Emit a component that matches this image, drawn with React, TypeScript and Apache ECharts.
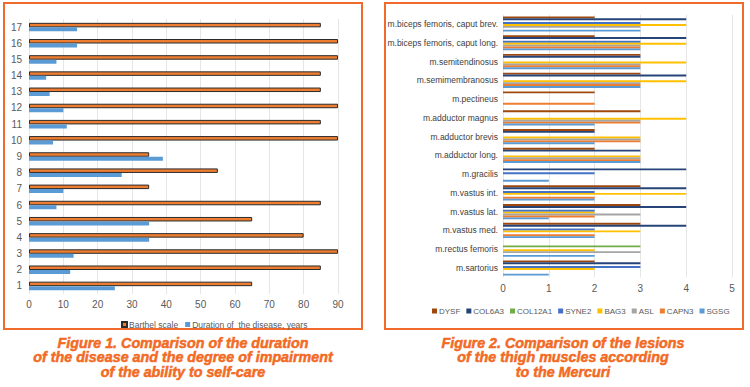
import React, { useEffect, useRef } from "react";
import * as echarts from "echarts";

// ---- Figure 1 data ----
const patients = ["1","2","3","4","5","6","7","8","9","10","11","12","13","14","15","16","17"];
const barthel = [65, 85, 90, 80, 65, 85, 35, 55, 35, 90, 85, 90, 85, 85, 90, 90, 85];
const duration = [25, 12, 13, 35, 35, 8, 10, 27, 39, 7, 11, 10, 6, 5, 8, 14, 14];
const leftTicks = { min: 0, max: 90, interval: 10 };

// ---- Figure 2 data (bottom to top) ----
const muscles = [
  "m.sartorius",
  "m.rectus femoris",
  "m.vastus med.",
  "m.vastus lat.",
  "m.vastus int.",
  "m.gracilis",
  "m.adductor long.",
  "m.adductor brevis",
  "m.adductor magnus",
  "m.pectineus",
  "m.semimembranosus",
  "m.semitendinosus",
  "m.biceps femoris, caput long.",
  "m.biceps femoris, caput brev.",
];
const genes = ["DYSF", "COL6A3", "COL12A1", "SYNE2", "BAG3", "ASL", "CAPN3", "SGSG"];
const DYSF = [2, 0, 3, 3, 3, 0, 2, 2, 3, 2, 3, 3, 2, 2];
const COL6A3 = [3, 0, 4, 4, 4, 4, 3, 2, 0, 0, 4, 3, 4, 4];
const COL12A1 = [0, 3, 0, 0, 0, 0, 0, 0, 0, 0, 0, 0, 0, 0];
const SYNE2 = [3, 0, 2, 2, 2, 2, 0, 0, 0, 0, 0, 0, 3, 3];
const BAG3 = [2, 2, 3, 2, 4, 0, 3, 3, 4, 0, 4, 4, 4, 4];
const ASL = [0, 3, 0, 3, 0, 0, 3, 3, 3, 0, 3, 3, 3, 3];
const CAPN3 = [0, 0, 2, 2, 2, 0, 3, 3, 3, 2, 3, 3, 3, 0];
const SGSG = [1, 2, 2, 1, 2, 1, 3, 2, 2, 0, 3, 3, 3, 3];
const geneValues = [DYSF, COL6A3, COL12A1, SYNE2, BAG3, ASL, CAPN3, SGSG];
const rightTicks = { min: 0, max: 5, interval: 1 };

const caption1 = [
  "Figure 1. Comparison of the duration",
  "of the disease and the degree of impairment",
  "of the ability to self-care",
];
const caption2 = [
  "Figure 2. Comparison of the lesions",
  "of the thigh muscles according",
  "to the Mercuri",
];

const geneColors = ["#9E480E", "#264478", "#70AD47", "#4472C4", "#FFC000", "#A5A5A5", "#ED7D31", "#5B9BD5"];
const FRAME = "#EF6A2B";
const CAPTION = "#F26A24";
const FONT = "'Liberation Sans', Arial, sans-serif";
const LABEL = "#595959";

export default function App() {
  const ref = useRef<HTMLDivElement>(null);
  useEffect(() => {
    if (!ref.current) return;
    const chart = echarts.init(ref.current, undefined, { renderer: "svg" });
    const captionStyle = (lines: string[]) => ({
      text: lines.join("\n"),
      fill: CAPTION,
      stroke: CAPTION,
      lineWidth: 0.5,
      fontSize: 14.3,
      fontWeight: "bold",
      fontStyle: "italic",
      fontFamily: FONT,
      lineHeight: 14.6,
      align: "center",
      verticalAlign: "top",
    });

    const option: any = {
      animation: false,
      backgroundColor: "#ffffff",
      textStyle: { fontFamily: FONT },
      graphic: [
        { type: "rect", shape: { x: 4, y: 3, width: 358, height: 326 }, style: { fill: "none", stroke: FRAME, lineWidth: 2 } },
        { type: "rect", shape: { x: 385, y: 3, width: 358, height: 326 }, style: { fill: "none", stroke: FRAME, lineWidth: 2 } },
        { type: "text", x: 183, y: 335.5, style: captionStyle(caption1) },
        { type: "text", x: 563, y: 335.5, style: captionStyle(caption2) },
      ],
      legend: [
        {
          left: 116,
          top: 315,
          itemWidth: 5,
          itemHeight: 5,
          itemGap: 7,
          icon: "rect",
          textStyle: { fontSize: 8.5, color: LABEL, fontFamily: FONT, padding: [0, 0, 0, -3] },
          data: ["Barthel scale", "Duration of  the disease, years"],
        },
        {
          left: 427,
          top: 302,
          itemWidth: 5,
          itemHeight: 5,
          itemGap: 6,
          icon: "rect",
          textStyle: { fontSize: 8, color: LABEL, fontFamily: FONT, padding: [0, 0, 0, -3] },
          data: genes,
        },
      ],
      grid: [
        { left: 29, right: 412, top: 19, bottom: 93 },
        { left: 503, right: 18, top: 14.6, bottom: 109.6 },
      ],
      xAxis: [
        {
          gridIndex: 0,
          type: "value",
          ...leftTicks,
          axisLine: { show: false },
          axisTick: { show: false },
          axisLabel: { fontSize: 10, color: LABEL, margin: 5, fontFamily: FONT },
          splitLine: { lineStyle: { color: "#E6E6E6" } },
        },
        {
          gridIndex: 1,
          type: "value",
          ...rightTicks,
          axisLine: { show: false },
          axisTick: { show: false },
          axisLabel: { fontSize: 10, color: LABEL, margin: 6, fontFamily: FONT },
          splitLine: { lineStyle: { color: "#E6E6E6" } },
        },
      ],
      yAxis: [
        {
          gridIndex: 0,
          type: "category",
          data: patients,
          axisLine: { show: false },
          axisTick: { show: false },
          axisLabel: { fontSize: 10, color: LABEL, margin: 7, fontFamily: FONT },
        },
        {
          gridIndex: 1,
          type: "category",
          data: muscles,
          axisLine: { show: false },
          axisTick: { show: false },
          axisLabel: { fontSize: 8.5, color: "#404040", margin: 5, fontFamily: FONT },
        },
      ],
      series: [
        {
          name: "Barthel scale",
          type: "bar",
          xAxisIndex: 0,
          yAxisIndex: 0,
          data: barthel,
          barWidth: 4.5,
          barGap: "0%",
          itemStyle: { color: "#ED7D31", borderColor: "#2b2b2b", borderWidth: 1 },
        },
        {
          name: "Duration of  the disease, years",
          type: "bar",
          xAxisIndex: 0,
          yAxisIndex: 0,
          data: duration,
          barWidth: 4,
          barGap: "0%",
          itemStyle: { color: "#5B9BD5" },
        },
        ...genes.map((g, i) => ({
          name: g,
          type: "bar",
          xAxisIndex: 1,
          yAxisIndex: 1,
          data: geneValues[i],
          barWidth: 1.9,
          barGap: "0%",
          itemStyle: { color: geneColors[i] },
        })),
      ],
    };
    chart.setOption(option);
    return () => chart.dispose();
  }, []);
  return (
    <div
      ref={ref}
      style={{ position: "fixed", left: 0, top: 0, width: 750, height: 387, background: "#fff" }}
    />
  );
}
